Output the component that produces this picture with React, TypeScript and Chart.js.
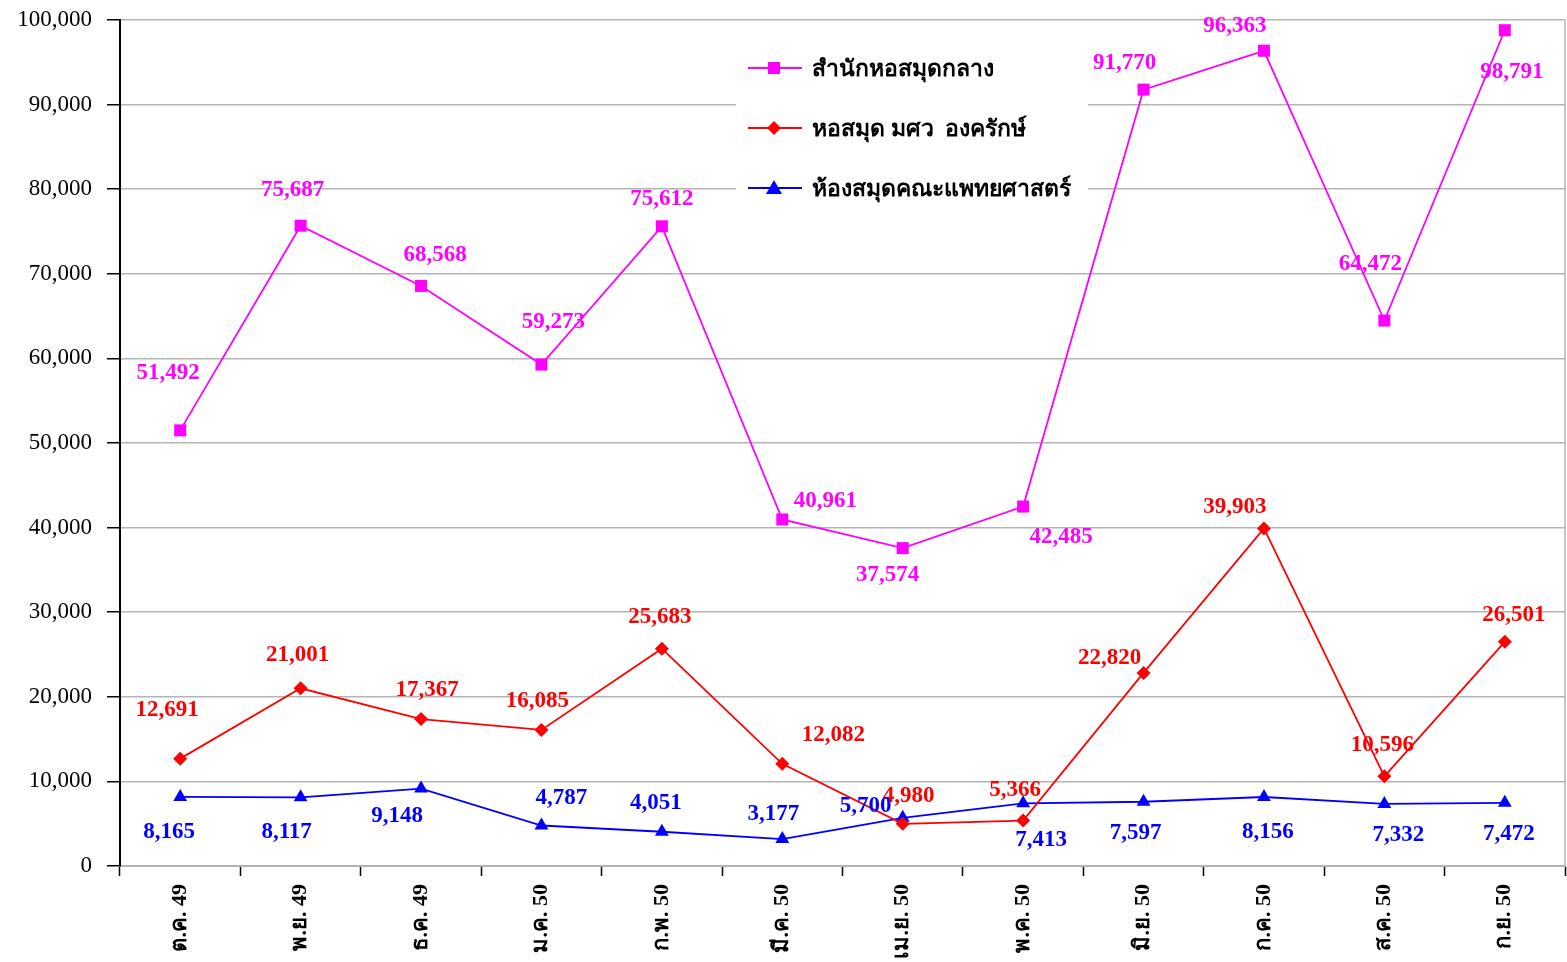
import React, { useEffect, useRef } from "react";
import { Chart, registerables } from "chart.js";

Chart.register(...registerables);

const categories = [
  "ต.ค. 49", "พ.ย. 49", "ธ.ค. 49", "ม.ค. 50", "ก.พ. 50", "มี.ค. 50",
  "เม.ย. 50", "พ.ค. 50", "มิ.ย. 50", "ก.ค. 50", "ส.ค. 50", "ก.ย. 50",
];

const seriesNames = ["สำนักหอสมุดกลาง", "หอสมุด มศว  องครักษ์", "ห้องสมุดคณะแพทยศาสตร์"];

const centralLibrary = [51492, 75687, 68568, 59273, 75612, 40961, 37574, 42485, 91770, 96363, 64472, 98791];
const ongkharakLibrary = [12691, 21001, 17367, 16085, 25683, 12082, 4980, 5366, 22820, 39903, 10596, 26501];
const medicineLibrary = [8165, 8117, 9148, 4787, 4051, 3177, 5700, 7413, 7597, 8156, 7332, 7472];

const yTicks = [0, 10000, 20000, 30000, 40000, 50000, 60000, 70000, 80000, 90000, 100000];

// label offsets (pixels from point) — placement only
const centralOffsets = [[-12, -57], [-8, -36], [14, -31], [12, -42], [0, -27], [43, -18], [-15, 27], [38, 30], [-19, -27], [-29, -25], [-14, -57], [7, 42]];
const ongkharakOffsets = [[-13, -49], [-3, -33], [6, -29], [-4, -29], [-2, -32], [51, -29], [6, -28], [-8, -31], [-34, -15], [-29, -21], [-2, -31], [9, -27]];
const medicineOffsets = [[-11, 35], [-14, 35], [-24, 27], [20, -27], [-6, -29], [-9, -25], [-37, -12], [18, 37], [-8, 31], [4, 35], [14, 31], [4, 31]];

const colors = ["#FF00FF", "#FF0000", "#0000FF"];
const pointStyles = ["rect", "rectRot", "triangle"];
const pointRadii = [8.5, 7, 8];

export default function App() {
  const ref = useRef<HTMLCanvasElement>(null);

  useEffect(() => {
    document.body.style.margin = "0";
    const canvas = ref.current;
    if (!canvas) return;
    const offsets = [centralOffsets, ongkharakOffsets, medicineOffsets];

    const extras = {
      id: "extras",
      beforeDatasetsDraw(chart: any) {
        const { ctx, chartArea } = chart;
        ctx.save();
        ctx.strokeStyle = "#b4b4b4";
        ctx.lineWidth = 1.5;
        ctx.beginPath();
        ctx.moveTo(chartArea.right, chartArea.top);
        ctx.lineTo(chartArea.right, chartArea.bottom);
        ctx.stroke();
        // legend box
        const bx = 736, by = 40, bw = 352, bh = 175;
        ctx.fillStyle = "#ffffff";
        ctx.fillRect(bx, by, bw, bh);
        ctx.font = "bold 23px 'Liberation Serif', serif";
        ctx.textBaseline = "middle";
        ctx.textAlign = "left";
        for (let i = 0; i < 3; i++) {
          const y = 68 + i * 60;
          ctx.strokeStyle = colors[i];
          ctx.lineWidth = 2;
          ctx.beginPath();
          ctx.moveTo(748, y);
          ctx.lineTo(802, y);
          ctx.stroke();
          ctx.fillStyle = colors[i];
          if (i === 0) {
            ctx.fillRect(768, y - 6, 12, 12);
          } else if (i === 1) {
            ctx.beginPath();
            ctx.moveTo(774, y - 7);
            ctx.lineTo(781, y);
            ctx.lineTo(774, y + 7);
            ctx.lineTo(767, y);
            ctx.closePath();
            ctx.fill();
          } else {
            ctx.beginPath();
            ctx.moveTo(774, y - 8);
            ctx.lineTo(782, y + 6);
            ctx.lineTo(766, y + 6);
            ctx.closePath();
            ctx.fill();
          }
          ctx.fillStyle = "#000000";
          ctx.fillText(seriesNames[i], 812, y + 2);
        }
        ctx.restore();
      },
      afterDatasetsDraw(chart: any) {
        const { ctx } = chart;
        ctx.save();
        ctx.font = "bold 23px 'Liberation Serif', serif";
        ctx.textAlign = "center";
        ctx.textBaseline = "middle";
        chart.data.datasets.forEach((ds: any, di: number) => {
          const meta = chart.getDatasetMeta(di);
          ctx.fillStyle = colors[di];
          meta.data.forEach((pt: any, i: number) => {
            const v = ds.data[i] as number;
            const [dx, dy] = offsets[di][i];
            ctx.fillText(v.toLocaleString("en-US"), pt.x + dx, pt.y + dy);
          });
        });
        ctx.restore();
      },
    };

    const chart = new Chart(canvas, {
      type: "line",
      data: {
        labels: categories,
        datasets: [centralLibrary, ongkharakLibrary, medicineLibrary].map((d, i) => ({
          label: seriesNames[i],
          data: d,
          borderColor: colors[i],
          backgroundColor: colors[i],
          borderWidth: 1.8,
          pointStyle: pointStyles[i] as any,
          pointRadius: pointRadii[i],
          pointBorderWidth: 0,
          tension: 0,
          fill: false,
          clip: false,
        })),
      },
      options: {
        responsive: false,
        animation: false,
        layout: { autoPadding: false, padding: { top: 20, right: 2, left: 0, bottom: 0 } },
        plugins: { legend: { display: false }, tooltip: { enabled: false } },
        scales: {
          x: {
            offset: true,
            grid: {
              offset: true,
              drawOnChartArea: false,
              drawTicks: true,
              tickLength: 10,
              tickColor: "#000000",
              tickWidth: 1.5,
            },
            border: { color: "#b4b4b4", width: 2 },
            ticks: {
              maxRotation: 90,
              minRotation: 90,
              padding: 8,
              color: "#000000",
              font: { family: "'Liberation Serif', serif", size: 22, weight: "bold" },
            },
            afterFit(scale: any) {
              scale.height = 96;
              scale.paddingLeft = 0;
              scale.paddingRight = 0;
            },
          },
          y: {
            min: 0,
            max: 100000,
            afterBuildTicks(scale: any) {
              scale.ticks = yTicks.map((v) => ({ value: v }));
            },
            grid: {
              color: "#b4b4b4",
              lineWidth: 1.5,
              tickLength: 13,
              tickColor: "#000000",
              tickWidth: 1.5,
            },
            border: { color: "#000000", width: 2 },
            ticks: {
              padding: 15,
              color: "#000000",
              font: { family: "'Liberation Serif', serif", size: 23 },
              callback: (v: any) => Number(v).toLocaleString("en-US"),
            },
            afterFit(scale: any) {
              scale.width = 120;
              scale.paddingTop = 0;
              scale.paddingBottom = 0;
            },
          },
        },
      },
      plugins: [extras],
    });
    return () => chart.destroy();
  }, []);

  return (
    <div style={{ width: 1567, height: 962 }}>
      <canvas ref={ref} width={1567} height={962} style={{ display: "block" }} />
    </div>
  );
}
